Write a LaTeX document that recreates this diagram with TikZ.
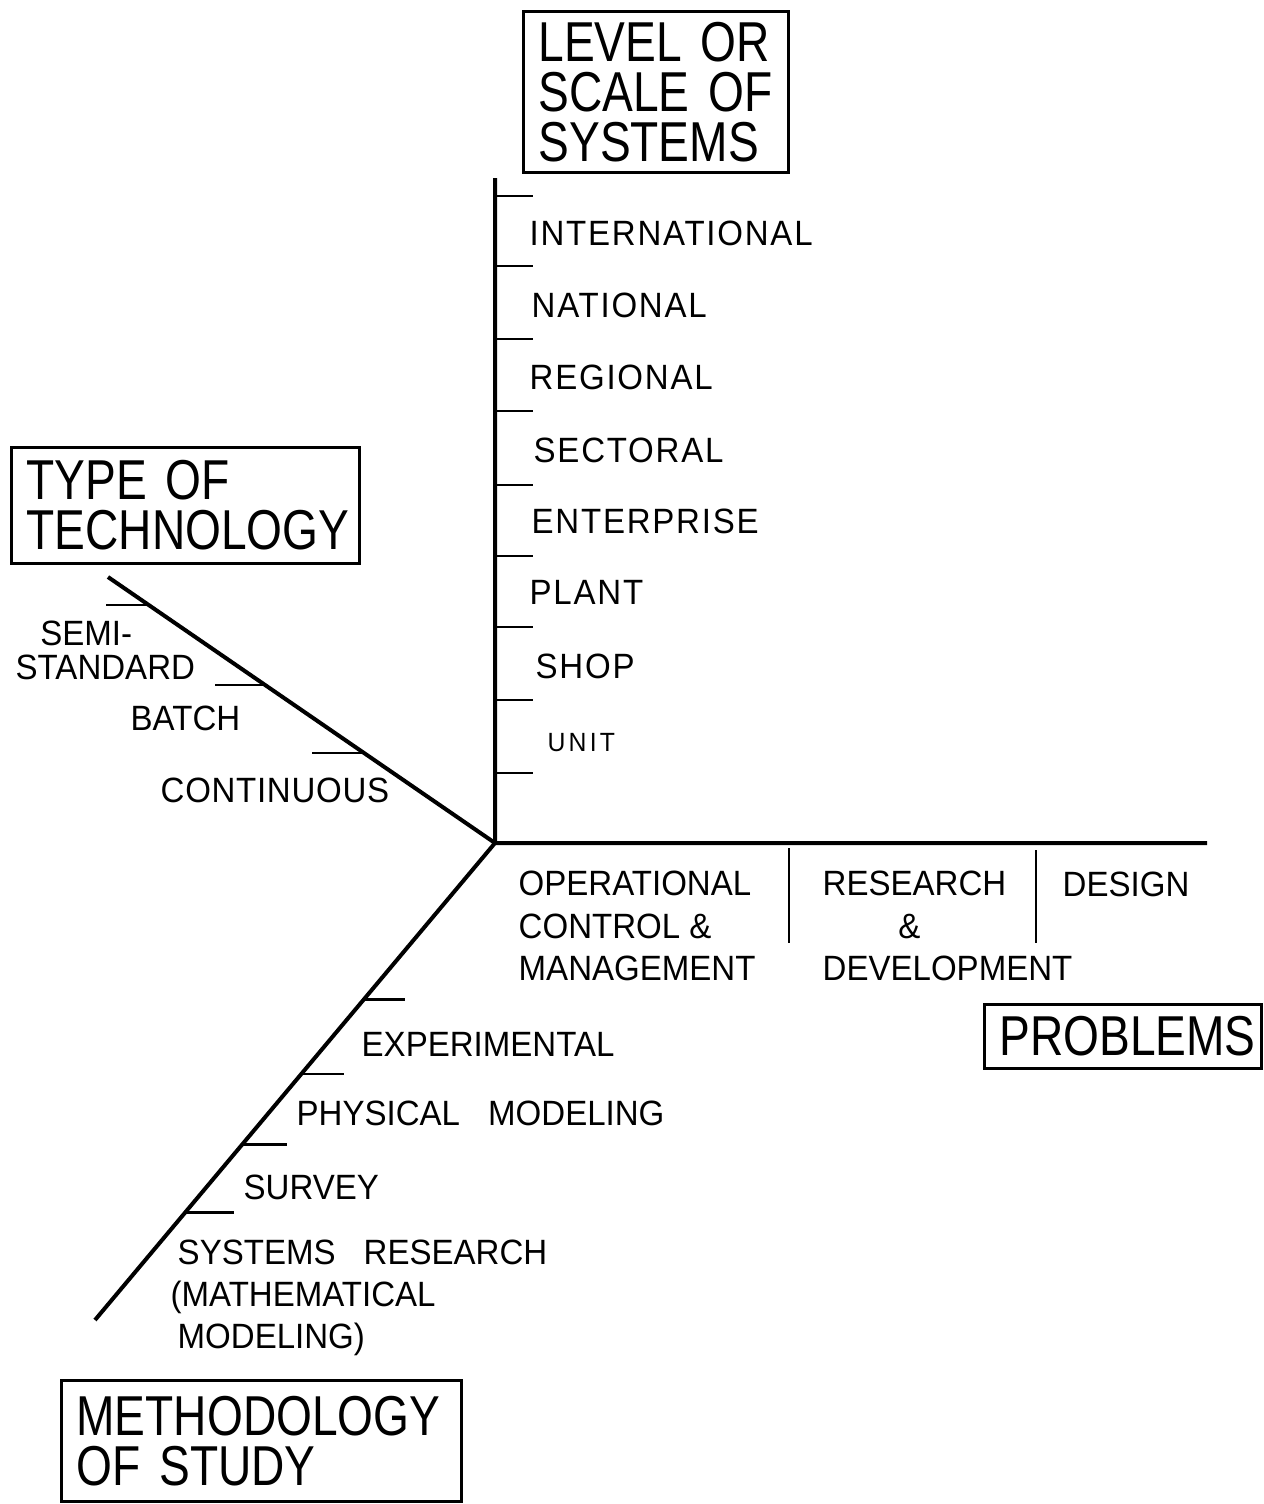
\documentclass[tikz,border=0pt]{standalone}
\usepackage{fontspec}
\setmainfont{Liberation Sans}
\newfontfamily\labelfont[FakeStretch=0.94]{Liberation Sans}
\newfontfamily\titlefont[FakeStretch=0.82]{Liberation Sans}
\usetikzlibrary{calc}
\begin{document}
\begin{tikzpicture}[x=0.1mm,y=-0.1mm,
axis/.style={line width=0.4mm},
tick/.style={line width=0.27mm},
lbl/.style={anchor=west,inner sep=0pt,align=left,font=\labelfont\fontsize{10pt}{12pt}\selectfont},
spaced/.style={lbl,font=\labelfont\fontsize{10pt}{12pt}\selectfont\addfontfeature{LetterSpace=5}},
title/.style={draw,line width=0.3mm,anchor=north west,align=left,inner xsep=1.5mm,inner ysep=0pt,
  font=\titlefont\fontsize{16pt}{14.2pt}\selectfont}]
\useasboundingbox(0,0)rectangle(1264,1504);
\coordinate(O)at(495,843);
\coordinate(up)at(495,178);
\coordinate(rt)at(1207,843);
\coordinate(tl)at(108,577);
\coordinate(md)at(95,1320);
\draw[axis](up)--(O)--(rt) (tl)--(O)--(md);
\foreach \y in {196,266,339,411,485,556,627,700,773}\draw[tick](495,\y)--++(38,0);
\foreach \t/\l in {0.895/43,0.594/50,0.338/52}\draw[tick]($(O)!\t!(tl)$)--++(-\l,0);
\foreach \t/\l in {0.328/41,0.484/43,0.632/45,0.775/49}\draw[tick]($(O)!\t!(md)$)--++(\l,0);
\draw[tick](789,848)--(789,943) (1036,850)--(1036,943);
\node[title,text width=23.5mm,minimum height=16.1mm](level)at(522,10){LEVEL~OR\\SCALE~OF\\SYSTEMS};
\node[title,text width=31.8mm,minimum height=11.6mm](type)at(10,446){TYPE~OF\\TECHNOLOGY};
\node[title,text width=37mm,minimum height=12.1mm](method)at(60,1379){METHODOLOGY\\OF~STUDY};
\node[title,text width=24.7mm,minimum height=6.4mm](problems)at(983,1003){PROBLEMS};
\node[spaced](intl)at(529,233){INTERNATIONAL};
\node[spaced](natl)at(531,305){NATIONAL};
\node[spaced](regl)at(529,377){REGIONAL};
\node[spaced](sect)at(533,450){SECTORAL};
\node[spaced](ent)at(531,521){ENTERPRISE};
\node[spaced](plant)at(529,592){PLANT};
\node[spaced](shop)at(535,666){SHOP};
\node[lbl](unit)at(547,743){\fontsize{7.5pt}{9pt}\selectfont\addfontfeature{LetterSpace=12}UNIT};
\node[lbl,font=\labelfont\fontsize{10pt}{9.7pt}\selectfont](semi)at(15,650){\hspace*{0.7em}SEMI-\\STANDARD};
\node[lbl](batch)at(130,718){BATCH};
\node[lbl](cont)at(160,790){\addfontfeature{LetterSpace=2}CONTINUOUS};
\node[lbl](ops)at(518,926){OPERATIONAL\\CONTROL \&\\MANAGEMENT};
\node[lbl](rnd)at(822,926){RESEARCH\\\hspace*{2.15em}\&\\DEVELOPMENT};
\node[lbl](design)at(1062,884){DESIGN};
\node[lbl](exp)at(361,1044){EXPERIMENTAL};
\node[lbl](phys)at(296,1113){PHYSICAL\hspace{0.8em}MODELING};
\node[lbl](survey)at(243,1187){SURVEY};
\node[lbl](sysres)at(170,1298){\hspace*{0.2em}SYSTEMS\hspace{0.8em}RESEARCH\\(MATHEMATICAL\\\hspace*{0.2em}MODELING)};
\end{tikzpicture}
\end{document}
